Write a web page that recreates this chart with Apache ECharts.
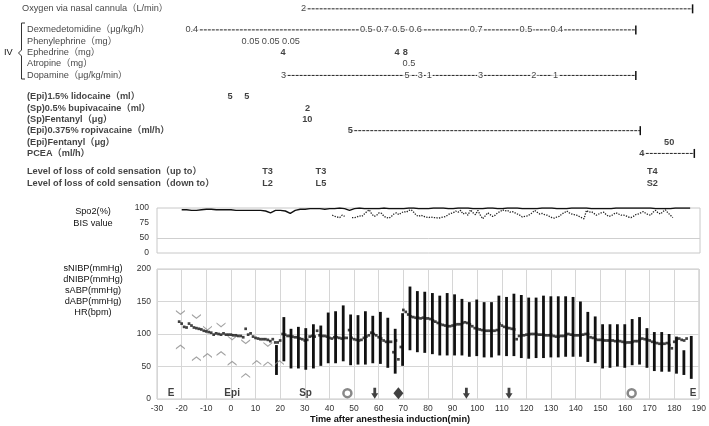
<!DOCTYPE html>
<html>
<head>
<meta charset="utf-8">
<script src="https://cdn.jsdelivr.net/npm/echarts@6/dist/echarts.min.js"></script>
<style>
html, body { margin: 0; padding: 0; background: #fff; }
#main { width: 709px; height: 426px; }
</style>
</head>
<body>
<div id="main"></div>
<script>
var FONT = '"Liberation Sans", "Noto Sans CJK JP", Arial, sans-serif';

// ---- row labels of the drug / sensation block ----
var rowNames = [
    'Oxygen via nasal cannula（L/min）',
    'Dexmedetomidine（μg/kg/h）',
    'Phenylephrine（mg）',
    'Ephedrine（mg）',
    'Atropine（mg）',
    'Dopamine（μg/kg/min）',
    '(Epi)1.5% lidocaine（ml）',
    '(Sp)0.5% bupivacaine（ml）',
    '(Sp)Fentanyl（μg）',
    '(Epi)0.375% ropivacaine（ml/h）',
    '(Epi)Fentanyl（μg）',
    'PCEA（ml/h）',
    'Level of loss of cold sensation（up to）',
    'Level of loss of cold sensation（down to）'
];

// doses (time after induction, min)
var oxygenTimes = [29.4];
var oxygenDoses = ['2'];
var oxygenEnd = 187;

var dexTimes = [-15.9, 54.8, 61.4, 67.9, 74.7, 99.3, 119.5, 132];
var dexDoses = ['0.4', '0.5', '0.7', '0.5', '0.6', '0.7', '0.5', '0.4'];
var dexEnd = 164;

var phenyTimes = [7.9, 16.1, 24.3];
var phenyDoses = ['0.05', '0.05', '0.05'];

var ephedTimes = [21.1, 67.3, 70.6];
var ephedDoses = ['4', '4', '8'];

var atropTimes = [72.1];
var atropDoses = ['0.5'];

var dopaTimes = [21.3, 71.3, 76.7, 80.3, 101.1, 122.7, 131.5];
var dopaDoses = ['3', '5', '3', '1', '3', '2', '1'];
var dopaEnd = 164;

var lidoTimes = [-0.4, 6.4];
var lidoDoses = ['5', '5'];

var bupiTimes = [31];
var bupiDoses = ['2'];

var spFentTimes = [30.9];
var spFentDoses = ['10'];

var ropiTimes = [48.3];
var ropiDoses = ['5'];
var ropiEnd = 165.8;

var epiFentTimes = [177.5];
var epiFentDoses = ['50'];

var pceaTimes = [166.4];
var pceaDoses = ['4'];
var pceaEnd = 187.7;

var levelTimes = [14.8, 36.4, 170.7];
var levelUp = ['T3', 'T3', 'T4'];
var levelDown = ['L2', 'L5', 'S2'];

// ---- SpO2 (every 2 min from -20) ----
var spo2Start = -20;
var spo2Values = [
    97, 97, 96, 96, 97, 98, 98, 97, 97, 97, 97, 96, 96, 96, 96, 96, 96, 95, 92, 96,
    96, 95, 91, 96, 98, 98, 99, 99, 99, 98, 99, 99, 100, 99, 96, 99, 100, 99, 99, 99,
    99, 100, 99, 99, 99, 99, 100, 100, 99, 99, 99, 100, 100, 100, 99, 99, 100, 100, 100, 99,
    99, 99, 100, 100, 99, 99, 100, 100, 100, 99, 99, 99, 99, 100, 100, 100, 99, 99, 99, 100,
    100, 100, 100, 99, 99, 99, 99, 99, 100, 100, 100, 100, 100, 100, 100, 100, 99, 99, 99, 99,
    100, 100, 100, 100
];

// ---- BIS, one per minute from 41; null = gap ----
var bisStart = 41;
var bisValues = [
    88, 86, 85, 84, 88, 86, null, null, 84, 84, 85, 87, 86, 90, 94, 97, 90, 86, 88, 92,
    91, 86, 84, 83, 86, 90, 92, 89, 92, 94, 93, 96, 97, 93, 88, 86, 88, 86, 85, 84,
    85, 84, 84, 83, 84, 85, 86, 89, 91, 92, 95, 93, 96, 90, 92, 88, 97, 92, 89, 96,
    88, 82, 87, 92, 89, 86, 88, 92, 94, 97, 95, 96, 93, 94, 92, 90, 88, 85, 86, 87,
    89, 92, 96, 93, 90, 91, 89, 88, 86, 84, 83, 85, 86, 90, 92, 95, 92, 90, 89, 88,
    86, 84, 82, 96, 93, 94, 91, 88, 90, 92, 93, 89, 86, 87, 90, 92, 90, 88, 88, 87,
    85, 84, 86, 89, 90, 92, 94, 91, 89, 88, 93, 96, 92, 90, 94, 97, 92, 88, 84
];

// ---- NIBP (chevrons) ----
var sNibpTimes = [-20.5, -14, -9.5, -4, 0.5, 6, 15];
var sNibp = [133, 127, 109, 114, 94, 88, 84];
var dNibpTimes = [-20.5, -14, -9.5, -4, 0.5, 6, 10.5, 15, 19.7];
var dNibp = [80, 62, 67, 70, 55, 36, 56, 54, 56];

// ---- arterial line (bars) ----
var abpTimes = [
    18.5, 21.5, 24.4, 27.4, 30.4, 33.5, 36.5, 39.5, 42.5, 45.6, 48.6, 51.6, 54.6, 57.6, 60.7,
    63.7, 66.7, 69.7, 72.7, 75.7, 78.7, 81.8, 84.8, 87.8, 90.8, 93.8, 96.8, 99.8, 102.8, 105.8,
    108.8, 111.9, 114.9, 117.9, 120.9, 123.9, 126.9, 129.9, 132.9, 135.9, 138.9, 141.9, 144.9, 147.9,
    150.9, 153.9, 156.9, 159.9, 162.9, 165.9, 168.9, 171.9, 174.9, 177.9, 180.9, 183.9, 186.9
];
var sAbp = [
    83, 126, 108, 111, 109, 115, 113, 133, 135, 144, 130, 129, 135, 128, 134,
    125, 108, 132, 173, 166, 165, 163, 159, 163, 161, 154, 149, 153, 149, 149,
    159, 157, 162, 160, 156, 156, 159, 158, 158, 158, 157, 150, 134, 127,
    115, 115, 115, 115, 123, 126, 109, 103, 103, 100, 96, 75, 97
];
var dAbp = [
    37, 58, 47, 47, 45, 47, 51, 55, 55, 58, 52, 53, 53, 55, 54,
    48, 39, 51, 75, 72, 71, 69, 67, 67, 67, 67, 65, 66, 64, 64,
    67, 66, 66, 63, 62, 63, 63, 64, 64, 65, 65, 65, 57, 55,
    47, 48, 50, 48, 52, 53, 48, 43, 42, 42, 39, 37, 31
];

// ---- heart rate, one per minute from -21 ----
var hrStart = -21;
var hrValues = [
    119, 116, 111, 110, 116, 113, 110, 109, 108, 107, 105, 104, 103, 102, 99, 101, 100, 99, 101, 99,
    99, 99, 98, 98, 97, 97, 95, 108, 99, 101, 96, 94, 93, 92, 92, 92, 91, 89, 92, 87,
    87, 90, 100, 99, 97, 97, 96, 95, 95, 93, 92, 90, 91, 96, 97, 96, 105, 98, 97, 97,
    96, 94, 93, 95, 95, 94, 93, 94, 94, 106, 94, 92, 91, 90, 91, 94, 96, 98, 102, 100,
    98, 95, 93, 90, 88, 88, 88, 72, 90, 61, 80, 137, 134, 130, 127, 126, 125, 125, 124, 125,
    124, 124, 123, 121, 119, 117, 115, 114, 113, 112, 112, 113, 114, 115, 115, 117, 118, 117, 115, 112,
    109, 108, 107, 106, 105, 105, 105, 105, 105, 106, 116, 113, 111, 110, 109, 108, 107, 92, 97, 98,
    98, 99, 99, 100, 100, 100, 99, 99, 99, 98, 98, 99, 97, 96, 96, 97, 97, 98, 100, 99,
    98, 98, 98, 98, 99, 100, 100, 95, 94, 92, 91, 91, 91, 90, 90, 90, 90, 89, 90, 89,
    88, 86, 87, 87, 88, 89, 89, 91, 93, 92, 91, 90, 88, 87, 86, 85, 85, 85, 86, 83,
    78, 88, 92, 93, 91, 90, 93
];

// ---- events along the bottom ----
var eventTimes = [-24.3, 0.5, 30.3, 47.3, 58.4, 68, 95.6, 112.9, 162.7, 187.6];
var eventMarks = ['E', 'Epi', 'Sp', 'ring', 'arrow', 'diamond', 'arrow', 'arrow', 'ring', 'E'];

// layout of the rows (row units, ~11.4px each)
var rowPos = [0, 1.85, 2.9, 3.85, 4.8, 5.85, 7.7, 8.75, 9.75, 10.7, 11.75, 12.7, 14.3, 15.35];
var rowIndent = [-135, -130, -130, -130, -130, -130, -130, -130, -130, -130, -130, -130, -130, -130];
var rowBold = [false, false, false, false, false, false, true, true, true, true, true, true, true, true];

var doseRows = [
    { row: 0, times: oxygenTimes, texts: oxygenDoses, end: oxygenEnd, bold: false },
    { row: 1, times: dexTimes, texts: dexDoses, end: dexEnd, bold: false },
    { row: 2, times: phenyTimes, texts: phenyDoses, bold: false },
    { row: 3, times: ephedTimes, texts: ephedDoses, bold: true },
    { row: 4, times: atropTimes, texts: atropDoses, bold: false },
    { row: 5, times: dopaTimes, texts: dopaDoses, end: dopaEnd, bold: false },
    { row: 6, times: lidoTimes, texts: lidoDoses, bold: true },
    { row: 7, times: bupiTimes, texts: bupiDoses, bold: true },
    { row: 8, times: spFentTimes, texts: spFentDoses, bold: true },
    { row: 9, times: ropiTimes, texts: ropiDoses, end: ropiEnd, bold: true },
    { row: 10, times: epiFentTimes, texts: epiFentDoses, bold: true },
    { row: 11, times: pceaTimes, texts: pceaDoses, end: pceaEnd, bold: true },
    { row: 12, times: levelTimes, texts: levelUp, bold: true },
    { row: 13, times: levelTimes, texts: levelDown, bold: true }
];

var series = [];

// row names on the left
series.push({
    type: 'scatter', xAxisIndex: 0, yAxisIndex: 0, symbolSize: 0, clip: false, silent: true,
    data: rowNames.map(function(name, i) {
        return {
            value: [-30, rowPos[i]],
            label: {
                show: true, position: 'right', distance: 0, offset: [rowIndent[i], 0],
                formatter: name, color: '#111', fontSize: 9.2, fontFamily: FONT,
                fontWeight: rowBold[i] ? 'bold' : 'normal'
            }
        };
    })
});

doseRows.forEach(function(r) {
    var y = rowPos[r.row];
    var hasLine = r.end !== undefined;
    if (hasLine) {
        series.push({
            type: 'line', xAxisIndex: 0, yAxisIndex: 0, silent: true, z: 2,
            symbol: 'none', showSymbol: true,
            lineStyle: { color: '#222', width: 1, type: [3, 1] },
            data: [
                [r.times[0], y],
                { value: [r.end, y], symbol: 'rect', symbolSize: [1.5, 9], itemStyle: { color: '#111' } }
            ]
        });
    }
    series.push({
        type: 'scatter', xAxisIndex: 0, yAxisIndex: 0, symbolSize: 0, silent: true, z: 3,
        data: r.times.map(function(t, i) { return [t, y, r.texts[i]]; }),
        label: {
            show: true, position: 'inside', color: '#111', fontSize: 9.2, fontFamily: FONT,
            fontWeight: r.bold ? 'bold' : 'normal',
            backgroundColor: hasLine ? '#fff' : 'transparent', padding: hasLine ? [0, 1] : 0,
            formatter: function(p) { return p.value[2]; }
        }
    });
});

// SpO2 and BIS
series.push({
    type: 'line', xAxisIndex: 1, yAxisIndex: 1, symbol: 'none', silent: true,
    lineStyle: { color: '#111', width: 1.4 },
    data: spo2Values.map(function(v, i) { return [spo2Start + i * 2, v]; }),
    markLine: {
        silent: true, symbol: 'none', label: { show: false },
        lineStyle: { color: '#cfcfcf', width: 1, type: 'solid' },
        data: [{ yAxis: 50 }]
    }
});
series.push({
    type: 'line', xAxisIndex: 1, yAxisIndex: 1, symbol: 'none', silent: true,
    connectNulls: false,
    lineStyle: { color: '#222', width: 1.3, type: 'dotted' },
    data: bisValues.map(function(v, i) { return [bisStart + i, v]; })
});

// arterial pressure bars
series.push({
    type: 'custom', xAxisIndex: 2, yAxisIndex: 2, silent: true,
    data: abpTimes.map(function(t, i) { return [t, sAbp[i], dAbp[i]]; }),
    encode: { x: 0, y: [1, 2] },
    renderItem: function(params, api) {
        var top = api.coord([api.value(0), api.value(1)]);
        var bot = api.coord([api.value(0), api.value(2)]);
        return {
            type: 'rect',
            shape: { x: top[0] - 1.4, y: top[1], width: 2.8, height: bot[1] - top[1] },
            style: { fill: '#111' }
        };
    }
});

// NIBP chevrons
series.push({
    type: 'scatter', xAxisIndex: 2, yAxisIndex: 2, silent: true,
    symbol: 'path://M0,0 L5,4 L10,0 L10,1.6 L5,5.6 L0,1.6 Z', symbolSize: [9, 5],
    itemStyle: { color: '#8c8c8c' },
    data: sNibpTimes.map(function(t, i) { return [t, sNibp[i]]; })
});
series.push({
    type: 'scatter', xAxisIndex: 2, yAxisIndex: 2, silent: true,
    symbol: 'path://M0,5.6 L5,1.6 L10,5.6 L10,4 L5,0 L0,4 Z', symbolSize: [9, 5],
    itemStyle: { color: '#8c8c8c' },
    data: dNibpTimes.map(function(t, i) { return [t, dNibp[i]]; })
});

// heart rate dots
series.push({
    type: 'scatter', xAxisIndex: 2, yAxisIndex: 2, silent: true, z: 4,
    symbol: 'rect', symbolSize: 2.7, itemStyle: { color: '#111' },
    data: hrValues.map(function(v, i) { return [hrStart + i, v]; })
});

// events
var eventY = 9;
series.push({
    type: 'scatter', xAxisIndex: 2, yAxisIndex: 2, silent: true, z: 5, clip: false,
    data: eventTimes.map(function(t, i) {
        var m = eventMarks[i];
        if (m === 'ring') {
            return { value: [t, eventY], symbol: 'circle', symbolSize: 8,
                itemStyle: { color: '#fff', borderColor: '#6a6a6a', borderWidth: 2.5 } };
        }
        if (m === 'arrow') {
            return { value: [t, eventY], symbol: 'path://M3,0 L7,0 L7,6 L10,6 L5,12 L0,6 L3,6 Z',
                symbolSize: [7, 11], itemStyle: { color: '#111' } };
        }
        if (m === 'diamond') {
            return { value: [t, eventY], symbol: 'diamond', symbolSize: [10, 12], itemStyle: { color: '#111' } };
        }
        return { value: [t, eventY], symbolSize: 0,
            label: { show: true, position: 'inside', formatter: m, color: '#111',
                fontSize: 10, fontWeight: 'bold', fontFamily: FONT } };
    })
});

var tickLabel = { color: '#333', fontSize: 8.5, fontFamily: FONT, margin: 5 };

var option = {
    backgroundColor: '#fff',
    animation: false,
    textStyle: { fontFamily: FONT },
    grid: [
        { left: 157, right: 9, top: 2, height: 189 },
        { left: 157, right: 9, top: 208, height: 45, show: true, borderColor: '#c8c8c8', borderWidth: 1 },
        { left: 157, right: 9, top: 269, height: 130, show: true, borderColor: '#c8c8c8', borderWidth: 1 }
    ],
    xAxis: [
        { gridIndex: 0, type: 'value', min: -30, max: 190, show: false },
        { gridIndex: 1, type: 'value', min: -30, max: 190, interval: 10,
          axisLabel: { show: false }, axisLine: { show: false }, axisTick: { show: false }, splitLine: { show: false } },
        { gridIndex: 2, type: 'value', min: -30, max: 190, interval: 10,
          axisLabel: tickLabel, axisLine: { show: false }, axisTick: { show: false },
          splitLine: { show: true, lineStyle: { color: '#d6d6d6' } } }
    ],
    yAxis: [
        { gridIndex: 0, type: 'value', min: -0.6, max: 16, inverse: true, show: false },
        { gridIndex: 1, type: 'value', min: 25, max: 100, interval: 25,
          axisLabel: { color: '#333', fontSize: 8.5, fontFamily: FONT, margin: 8,
                       formatter: function(v) { return v === 25 ? '0' : String(v); } },
          axisLine: { show: false }, axisTick: { show: false }, splitLine: { show: false } },
        { gridIndex: 2, type: 'value', min: 0, max: 200, interval: 50,
          axisLabel: { color: '#333', fontSize: 8.5, fontFamily: FONT, margin: 6 },
          axisLine: { show: false }, axisTick: { show: false },
          splitLine: { show: true, lineStyle: { color: '#d6d6d6' } } }
    ],
    graphic: [
        { type: 'text', left: 4, top: 48, style: { text: 'IV', fontSize: 9.2, fontFamily: FONT, fill: '#111' } },
        { type: 'polyline', shape: { points: [[25, 23], [21.5, 23], [21.5, 50], [18.5, 53], [21.5, 56], [21.5, 79], [25, 79]] },
          style: { stroke: '#333', lineWidth: 1, fill: null } },
        { type: 'text', x: 93, y: 206, style: { text: 'Spo2(%)\nBIS value', fontSize: 9.2, fontFamily: FONT,
          fill: '#111', align: 'center', lineHeight: 11.5 } },
        { type: 'text', x: 93, y: 263, style: { text: 'sNIBP(mmHg)\ndNIBP(mmHg)\nsABP(mmHg)\ndABP(mmHg)\nHR(bpm)',
          fontSize: 9.2, fontFamily: FONT, fill: '#111', align: 'center', lineHeight: 11 } },
        { type: 'text', x: 390, y: 419, style: { text: 'Time after anesthesia induction(min)', fontSize: 9.2,
          fontWeight: 'bold', fontFamily: FONT, fill: '#111', align: 'center', verticalAlign: 'middle' } }
    ],
    series: series
};

var chart = echarts.init(document.getElementById('main'));
chart.setOption(option);
</script>
</body>
</html>
